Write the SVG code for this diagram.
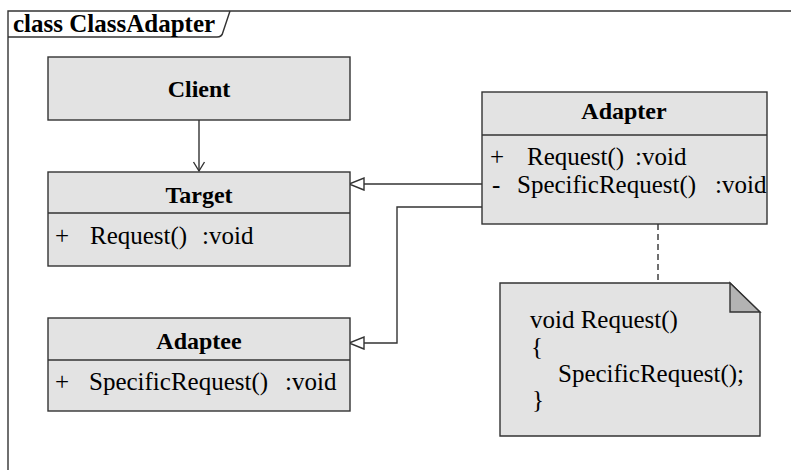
<svg xmlns="http://www.w3.org/2000/svg" width="791" height="470" viewBox="0 0 791 470">
<defs>
<marker id="open" markerWidth="14" markerHeight="14" refX="12" refY="7" orient="auto" markerUnits="userSpaceOnUse">
<path d="M3,1.5 L12,7 L3,12.5" fill="none" stroke="#333" stroke-width="1.4"/>
</marker>
<marker id="tri" markerWidth="18" markerHeight="14" refX="16" refY="7" orient="auto" markerUnits="userSpaceOnUse">
<path d="M1,1 L16,7 L1,13 Z" fill="#fff" stroke="#333" stroke-width="1.4"/>
</marker>
</defs>
<rect width="791" height="470" fill="#fff"/>
<g id="frame" fill="none" stroke="#333" stroke-width="1.4">
<path d="M8,470 V11 H791"/>
<path d="M8,37 H217 Q222,37 223,32 L230,11"/>
<text x="13" y="32" font-family="'Liberation Serif', 'Times New Roman', 'DejaVu Serif', serif" font-size="25" font-weight="bold" fill="#000" stroke="none">class ClassAdapter</text>
</g>
<g id="connectors" fill="none" stroke="#333" stroke-width="1.4">
<line x1="199" y1="120" x2="199" y2="171" marker-end="url(#open)"/>
<line x1="482" y1="184" x2="349" y2="184" marker-end="url(#tri)"/>
<polyline points="482,207 397,207 397,343 349,343" marker-end="url(#tri)"/>
<line x1="658" y1="224" x2="658" y2="283" stroke-dasharray="6,4"/>
</g>
<g font-family="'Liberation Serif', 'Times New Roman', 'DejaVu Serif', serif" font-size="25" fill="#000">
<g id="client">
<rect x="48" y="57" width="302" height="63" fill="#e3e3e3" stroke="#333" stroke-width="1.4"/>
<text x="199" y="97" text-anchor="middle" font-weight="bold" font-size="24">Client</text>
</g>
<g id="target">
<rect x="48" y="172" width="302" height="94" fill="#e3e3e3" stroke="#333" stroke-width="1.4"/>
<line x1="48" y1="213" x2="350" y2="213" stroke="#333" stroke-width="1.4"/>
<text x="199" y="203" text-anchor="middle" font-weight="bold" font-size="24">Target</text>
<text x="55" y="244">+</text>
<text x="90" y="244">Request()</text>
<text x="202" y="244">:void</text>
</g>
<g id="adaptee">
<rect x="48" y="318" width="302" height="93" fill="#e3e3e3" stroke="#333" stroke-width="1.4"/>
<line x1="48" y1="360" x2="350" y2="360" stroke="#333" stroke-width="1.4"/>
<text x="199" y="349" text-anchor="middle" font-weight="bold" font-size="24">Adaptee</text>
<text x="55" y="390">+</text>
<text x="89" y="390">SpecificRequest()</text>
<text x="285" y="390">:void</text>
</g>
<g id="adapter">
<rect x="482" y="92" width="285" height="132" fill="#e3e3e3" stroke="#333" stroke-width="1.4"/>
<line x1="482" y1="135" x2="767" y2="135" stroke="#333" stroke-width="1.4"/>
<text x="624" y="119" text-anchor="middle" font-weight="bold" font-size="24">Adapter</text>
<text x="490" y="165">+</text>
<text x="527" y="165">Request()</text>
<text x="635" y="165">:void</text>
<text x="492" y="193">-</text>
<text x="517" y="193">SpecificRequest()</text>
<text x="715" y="193">:void</text>
</g>
<g id="note">
<path d="M500,283 H730 L760,312 V436 H500 Z" fill="#e3e3e3" stroke="#333" stroke-width="1.4"/>
<path d="M730,283 L760,312 H730 Z" fill="#b3b3b3" stroke="#333" stroke-width="1.4"/>
<text x="530" y="328">void Request()</text>
<text x="531" y="355">{</text>
<text x="558" y="382">SpecificRequest();</text>
<text x="532" y="408">}</text>
</g>
</g>
</svg>
